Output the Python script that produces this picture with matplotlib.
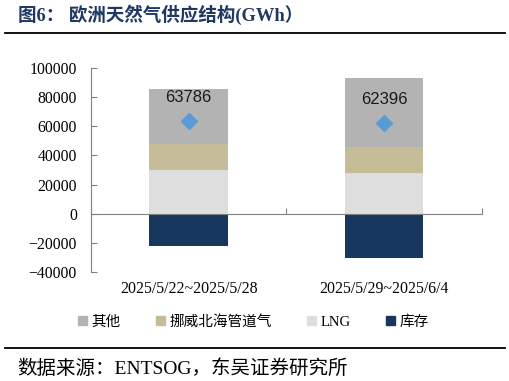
import matplotlib.pyplot as plt
from matplotlib.patches import Patch
from matplotlib.lines import Line2D
from matplotlib.transforms import blended_transform_factory

# weekly EU gas supply structure, GWh
weeks = ["2025/5/22~2025/5/28", "2025/5/29~2025/6/4"]
lng = [29800, 27600]
norway = [17800, 18100]
other = [38300, 47400]
storage = [-22100, -30700]
total = [63786, 62396]

names = ["其他", "挪威北海管道气", "LNG", "库存"]
colors = ["#b3b3b3", "#c4bd97", "#dedede", "#17375e"]

fam = ["Liberation Serif", "Noto Sans CJK SC"]
plt.rcParams["font.family"] = fam

fig = plt.figure(figsize=(5.1, 3.81), dpi=100)
ax = fig.add_axes([0.178, 0.2869, 0.767, 0.5338])

x = list(range(len(weeks)))
w = 0.40
ax.bar(x, lng, w, color=colors[2])
bot2 = [a + b for a, b in zip(lng, norway)]
ax.bar(x, norway, w, bottom=lng, color=colors[1])
ax.bar(x, other, w, bottom=bot2, color=colors[0])
ax.bar(x, storage, w, color=colors[3])
ax.plot(x, total, linestyle="none", marker="D", markersize=8.5,
        color="#5b9bd5", zorder=5)
for xi, t in zip(x, total):
    ax.annotate(str(t), (xi, t), xytext=(0, 17), textcoords="offset points",
                ha="center", va="center", fontsize=12,
                family="Liberation Sans", color="#1a1a1a")

ax.set_xlim(-0.5, 1.5)
ax.set_ylim(-40000, 100000)
ax.set_yticks(range(-40000, 100001, 20000))
ax.set_xticks([-0.5, 0.5, 1.5])
ax.set_xticklabels([])
ax.tick_params(axis="y", direction="in", length=4, color="#808080",
               labelsize=11.3, pad=10)
ax.tick_params(axis="x", direction="in", length=4, color="#808080")
for s in ["top", "right"]:
    ax.spines[s].set_visible(False)
ax.spines["left"].set_color("#808080")
ax.spines["bottom"].set_color("#808080")
ax.spines["bottom"].set_position(("data", 0))
ax.set_zorder(1)

tr = blended_transform_factory(ax.transData, ax.transAxes)
for xi, lab in zip(x, weeks):
    ax.text(xi, -0.087, lab, transform=tr, ha="center", va="center",
            fontsize=11.4)

handles = [Patch(color=c) for c in colors]
fig.legend(handles, names, loc="center", bbox_to_anchor=(0.497, 0.155),
           ncol=4, frameon=False, fontsize=10.5, handlelength=0.6,
           handleheight=0.6, handletextpad=0.3, columnspacing=2.45)

fig.text(0.035, 0.961, "图6： 欧洲天然气供应结构(GWh）", fontsize=13.3,
         fontweight="bold", color="#1f3864", va="center")
fig.add_artist(Line2D([0.01, 0.99], [0.913, 0.913], color="black", lw=1.3))
fig.add_artist(Line2D([0.01, 0.99], [0.0866, 0.0866], color="black", lw=1.3))
fig.text(0.033, 0.034, "数据来源：ENTSOG，东吴证券研究所", fontsize=14,
         va="center")

fig.savefig("out.png", dpi=100)
